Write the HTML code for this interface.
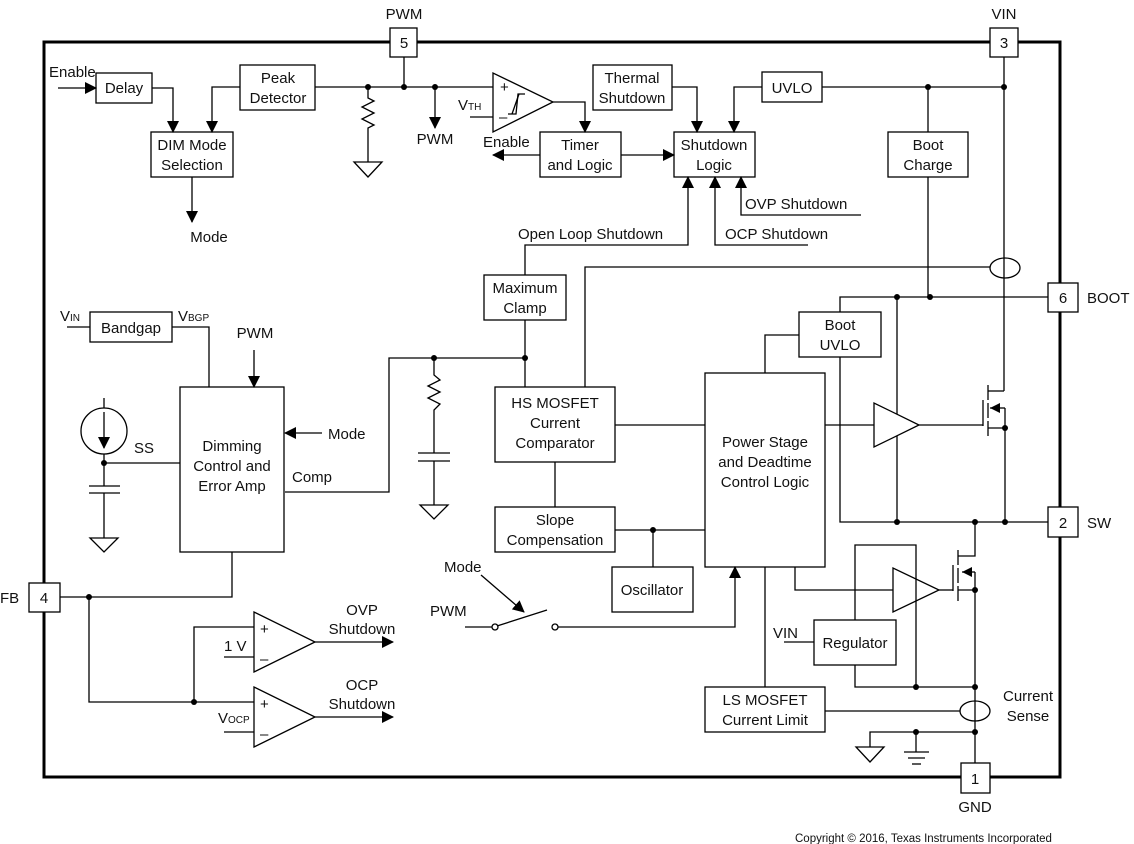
<!DOCTYPE html>
<html><head><meta charset="utf-8"><style>
body{margin:0;background:#fff;}
svg{display:block;}
text{font-family:"Liberation Sans",Arial,sans-serif;font-size:15px;fill:#111;}
.c{text-anchor:middle;}
.s{font-size:11.5px;}
</style></head><body>
<svg width="1134" height="844" viewBox="0 0 1134 844" xmlns="http://www.w3.org/2000/svg">
<defs>
<marker id="a" markerWidth="12" markerHeight="12" refX="11" refY="6" orient="auto" markerUnits="userSpaceOnUse"><path d="M0,0 L12,6 L0,12 z" fill="#000"/></marker>
</defs>
<g fill="none" stroke="#000" stroke-width="1.3">
<rect x="44" y="42" width="1016" height="735" stroke-width="3"/>
<rect x="390" y="28" width="27" height="29" fill="#fff"/>
<rect x="990" y="28" width="28" height="29" fill="#fff"/>
<rect x="1048" y="283" width="30" height="29" fill="#fff"/>
<rect x="1048" y="507" width="30" height="30" fill="#fff"/>
<rect x="29" y="583" width="31" height="29" fill="#fff"/>
<rect x="961" y="763" width="29" height="30" fill="#fff"/>

<line x1="58" y1="88" x2="96" y2="88" marker-end="url(#a)"/>
<rect x="96" y="73" width="56" height="30"/>
<polyline points="152,88 173,88 173,132" marker-end="url(#a)"/>
<rect x="151" y="132" width="82" height="45"/>
<line x1="192" y1="177" x2="192" y2="222" marker-end="url(#a)"/>
<rect x="240" y="65" width="75" height="45"/>
<polyline points="240,87 212,87 212,132" marker-end="url(#a)"/>
<line x1="315" y1="87" x2="493" y2="87"/>
<line x1="404" y1="57" x2="404" y2="87"/>
<polyline points="368,87 368,98 374,101 362,107 374,113 362,119 374,125 368,128 368,162"/>
<path d="M354,162 L382,162 L368,177 z"/>
<line x1="435" y1="87" x2="435" y2="128" marker-end="url(#a)"/>
<path d="M493,73 L493,132 L553,102 z"/>
<line x1="470" y1="117" x2="493" y2="117"/>
<polyline points="508,114 516,114 518,94 525,94"/>
<polyline points="512,114 519,94"/>
<polyline points="553,102 585,102 585,132" marker-end="url(#a)"/>
<rect x="540" y="132" width="81" height="45"/>
<line x1="540" y1="155" x2="493" y2="155" marker-end="url(#a)"/>
<line x1="621" y1="155" x2="674" y2="155" marker-end="url(#a)"/>
<rect x="674" y="132" width="81" height="45"/>
<rect x="593" y="65" width="79" height="45"/>
<polyline points="672,87 697,87 697,132" marker-end="url(#a)"/>
<rect x="762" y="72" width="60" height="30"/>
<polyline points="762,87 734,87 734,132" marker-end="url(#a)"/>
<line x1="822" y1="87" x2="1004" y2="87"/>
<line x1="1004" y1="57" x2="1004" y2="391"/>
<line x1="928" y1="87" x2="928" y2="132"/>
<rect x="888" y="132" width="80" height="45"/>
<line x1="928" y1="177" x2="928" y2="297"/>
<polyline points="525,275 525,245 688,245 688,177" marker-end="url(#a)"/>
<polyline points="808,245 715,245 715,177" marker-end="url(#a)"/>
<polyline points="861,215 741,215 741,177" marker-end="url(#a)"/>
<rect x="484" y="275" width="82" height="45"/>
<line x1="525" y1="320" x2="525" y2="387"/>
<rect x="495" y="387" width="120" height="75"/>
<polyline points="285,492 389,492 389,358 525,358"/>
<polyline points="434,358 434,375 440,380 428,386 440,392 428,398 440,404 434,410 434,453"/>
<line x1="418" y1="453" x2="450" y2="453"/><line x1="418" y1="461" x2="450" y2="461"/>
<line x1="434" y1="461" x2="434" y2="505"/>
<path d="M420,505 L448,505 L434,519 z"/>
<polyline points="585,387 585,267 990,267"/>
<ellipse cx="1005" cy="268" rx="15" ry="10"/>
<line x1="615" y1="425" x2="705" y2="425"/>
<line x1="555" y1="462" x2="555" y2="507"/>
<rect x="495" y="507" width="120" height="45"/>
<line x1="615" y1="530" x2="705" y2="530"/>
<line x1="653" y1="530" x2="653" y2="567"/>
<rect x="612" y="567" width="81" height="45"/>
<rect x="705" y="373" width="120" height="194"/>
<rect x="799" y="312" width="82" height="45"/>
<polyline points="840,312 840,297 1048,297"/>
<polyline points="799,335 765,335 765,373"/>
<polyline points="840,357 840,522 1048,522"/>
<line x1="897" y1="297" x2="897" y2="522"/>
<line x1="825" y1="425" x2="874" y2="425"/>
<path d="M874,403 L874,447 L919,425 z" fill="#fff"/>
<line x1="919" y1="425" x2="983" y2="425"/>
<line x1="983" y1="400" x2="983" y2="426"/>
<line x1="988" y1="385" x2="988" y2="400"/><line x1="988" y1="403" x2="988" y2="418"/><line x1="988" y1="421" x2="988" y2="436"/>
<polyline points="988,391 1004,391"/>
<polyline points="988,428 1005,428"/>
<polyline points="1005,408 1005,522"/>
<line x1="1005" y1="408" x2="990" y2="408"/>
<polyline points="795,567 795,590 893,590"/>
<path d="M893,568 L893,612 L939,590 z" fill="#fff"/>
<line x1="939" y1="590" x2="953" y2="590"/>
<line x1="953" y1="565" x2="953" y2="591"/>
<line x1="958" y1="550" x2="958" y2="565"/><line x1="958" y1="568" x2="958" y2="583"/><line x1="958" y1="586" x2="958" y2="601"/>
<polyline points="958,556 975,556 975,522"/>
<polyline points="958,590 975,590"/>
<polyline points="975,572 975,763"/>
<line x1="975" y1="572" x2="962" y2="572"/>
<polyline points="855,620 855,545 916,545 916,687"/>
<rect x="814" y="620" width="82" height="45"/>
<polyline points="855,665 855,687 975,687"/>
<line x1="784" y1="642" x2="814" y2="642"/>
<rect x="705" y="687" width="120" height="45"/>
<line x1="765" y1="567" x2="765" y2="687"/>
<line x1="825" y1="711" x2="960" y2="711"/>
<ellipse cx="975" cy="711" rx="15" ry="10"/>
<polyline points="870,747 870,732 975,732"/>
<path d="M856,747 L884,747 L870,762 z"/>
<line x1="916" y1="732" x2="916" y2="752"/>
<line x1="904" y1="752" x2="929" y2="752"/><line x1="908" y1="758" x2="925" y2="758"/><line x1="912" y1="764" x2="921" y2="764"/>
<line x1="465" y1="627" x2="492" y2="627"/>
<circle cx="495" cy="627" r="3"/>
<circle cx="555" cy="627" r="3"/>
<line x1="497" y1="626" x2="547" y2="610"/>
<line x1="481" y1="575" x2="524" y2="612" marker-end="url(#a)"/>
<polyline points="558,627 735,627 735,567" marker-end="url(#a)"/>
<rect x="90" y="312" width="82" height="30"/>
<line x1="67" y1="327" x2="90" y2="327"/>
<polyline points="172,327 209,327 209,387"/>
<rect x="180" y="387" width="104" height="165"/>
<line x1="254" y1="350" x2="254" y2="387" marker-end="url(#a)"/>
<line x1="322" y1="433" x2="285" y2="433" marker-end="url(#a)"/>
<line x1="104" y1="398" x2="104" y2="408"/>
<circle cx="104" cy="431" r="23"/>
<line x1="104" y1="412" x2="104" y2="448" marker-end="url(#a)"/>
<line x1="104" y1="454" x2="104" y2="486"/>
<line x1="104" y1="463" x2="180" y2="463"/>
<line x1="89" y1="486" x2="120" y2="486"/><line x1="89" y1="493" x2="120" y2="493"/>
<line x1="104" y1="493" x2="104" y2="538"/>
<path d="M90,538 L118,538 L104,552 z"/>
<polyline points="60,597 232,597 232,552"/>
<polyline points="89,597 89,702 254,702"/>
<polyline points="194,702 194,627 254,627"/>
<path d="M254,612 L254,672 L315,642 z"/>
<line x1="224" y1="657" x2="254" y2="657"/>
<line x1="315" y1="642" x2="393" y2="642" marker-end="url(#a)"/>
<path d="M254,687 L254,747 L315,717 z"/>
<line x1="224" y1="732" x2="254" y2="732"/>
<line x1="315" y1="717" x2="393" y2="717" marker-end="url(#a)"/>
</g>
<g fill="#000">
<circle cx="368" cy="87" r="3"/><circle cx="404" cy="87" r="3"/><circle cx="435" cy="87" r="3"/>
<circle cx="928" cy="87" r="3"/><circle cx="1004" cy="87" r="3"/>
<circle cx="434" cy="358" r="3"/><circle cx="525" cy="358" r="3"/><circle cx="653" cy="530" r="3"/>
<circle cx="897" cy="297" r="3"/><circle cx="930" cy="297" r="3"/>
<circle cx="897" cy="522" r="3"/><circle cx="975" cy="522" r="3"/><circle cx="1005" cy="522" r="3"/>
<circle cx="1005" cy="428" r="3"/><circle cx="975" cy="590" r="3"/>
<circle cx="916" cy="687" r="3"/><circle cx="975" cy="687" r="3"/>
<circle cx="916" cy="732" r="3"/><circle cx="975" cy="732" r="3"/>
<circle cx="104" cy="463" r="3"/><circle cx="89" cy="597" r="3"/><circle cx="194" cy="702" r="3"/>
<path d="M990,408 L1000,403 L1000,413 z"/>
<path d="M962,572 L972,567 L972,577 z"/>
</g>
<text class="c" x="404" y="19">PWM</text>
<text class="c" x="404" y="48">5</text>
<text class="c" x="1004" y="19">VIN</text>
<text class="c" x="1004" y="48">3</text>
<text class="c" x="1063" y="303">6</text>
<text x="1087" y="303">BOOT</text>
<text class="c" x="1063" y="528">2</text>
<text x="1087" y="528">SW</text>
<text class="c" x="44" y="603">4</text>
<text x="0" y="603">FB</text>
<text class="c" x="975" y="784">1</text>
<text class="c" x="975" y="812">GND</text>
<text x="49" y="77">Enable</text>
<text class="c" x="124" y="93">Delay</text>
<text class="c" x="192" y="150">DIM Mode</text>
<text class="c" x="192" y="170">Selection</text>
<text class="c" x="209" y="242">Mode</text>
<text class="c" x="278" y="83">Peak</text>
<text class="c" x="278" y="103">Detector</text>
<text class="c" x="435" y="144">PWM</text>
<text x="458" y="110">V<tspan font-size="10">TH</tspan></text>
<text x="500" y="92" font-size="13">+</text>
<text x="499" y="122" font-size="13">–</text>
<text x="483" y="147">Enable</text>
<text class="c" x="580" y="150">Timer</text>
<text class="c" x="580" y="170">and Logic</text>
<text class="c" x="632" y="83">Thermal</text>
<text class="c" x="632" y="103">Shutdown</text>
<text class="c" x="714" y="150">Shutdown</text>
<text class="c" x="714" y="170">Logic</text>
<text class="c" x="792" y="93">UVLO</text>
<text class="c" x="928" y="150">Boot</text>
<text class="c" x="928" y="170">Charge</text>
<text x="745" y="209">OVP Shutdown</text>
<text x="725" y="239">OCP Shutdown</text>
<text x="518" y="239">Open Loop Shutdown</text>
<text class="c" x="525" y="293">Maximum</text>
<text class="c" x="525" y="313">Clamp</text>
<text class="c" x="840" y="330">Boot</text>
<text class="c" x="840" y="350">UVLO</text>
<text class="c" x="555" y="408">HS MOSFET</text>
<text class="c" x="555" y="428">Current</text>
<text class="c" x="555" y="448">Comparator</text>
<text class="c" x="765" y="447">Power Stage</text>
<text class="c" x="765" y="467">and Deadtime</text>
<text class="c" x="765" y="487">Control Logic</text>
<text class="c" x="555" y="525">Slope</text>
<text class="c" x="555" y="545">Compensation</text>
<text class="c" x="652" y="595">Oscillator</text>
<text class="c" x="855" y="648">Regulator</text>
<text x="773" y="638">VIN</text>
<text class="c" x="765" y="705">LS MOSFET</text>
<text class="c" x="765" y="725">Current Limit</text>
<text class="c" x="1028" y="701">Current</text>
<text class="c" x="1028" y="721">Sense</text>
<text x="60" y="321">V<tspan font-size="10">IN</tspan></text>
<text class="c" x="131" y="333">Bandgap</text>
<text x="178" y="321">V<tspan font-size="10">BGP</tspan></text>
<text class="c" x="255" y="338">PWM</text>
<text x="328" y="439">Mode</text>
<text x="134" y="453">SS</text>
<text class="c" x="232" y="451">Dimming</text>
<text class="c" x="232" y="471">Control and</text>
<text class="c" x="232" y="491">Error Amp</text>
<text x="292" y="482">Comp</text>
<text x="260" y="634" font-size="13">+</text>
<text x="260" y="664" font-size="13">–</text>
<text x="224" y="651">1 V</text>
<text x="260" y="709" font-size="13">+</text>
<text x="260" y="739" font-size="13">–</text>
<text x="218" y="723">V<tspan font-size="10">OCP</tspan></text>
<text class="c" x="362" y="615">OVP</text>
<text class="c" x="362" y="634">Shutdown</text>
<text class="c" x="362" y="690">OCP</text>
<text class="c" x="362" y="709">Shutdown</text>
<text x="444" y="572">Mode</text>
<text x="430" y="616">PWM</text>
<text class="s" x="795" y="842">Copyright © 2016, Texas Instruments Incorporated</text>
</svg>
</body></html>
